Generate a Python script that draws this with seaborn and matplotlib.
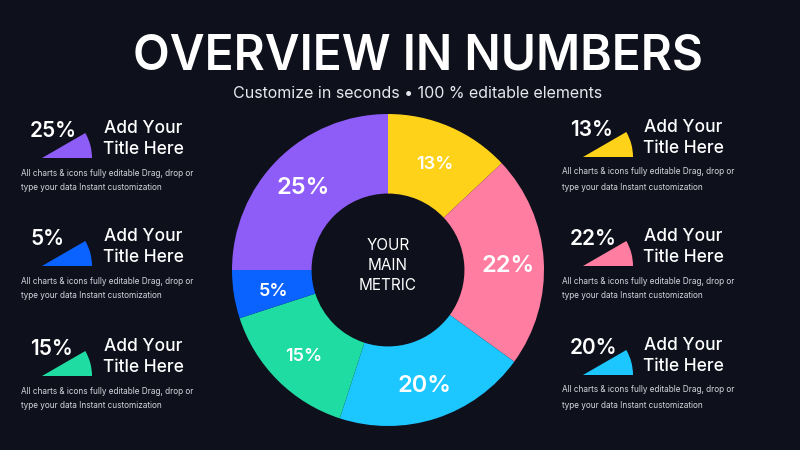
import matplotlib
matplotlib.use("Agg")
import matplotlib.pyplot as plt
from matplotlib.patches import Wedge
import numpy as np
import seaborn as sns

# ---- data ----
segment_labels = ["13%", "22%", "20%", "15%", "5%", "25%"]
segment_values = [13, 22, 20, 15, 5, 25]
segment_colors = ["#FFD21A", "#FF7DA0", "#1CC6FF", "#1FDCA2", "#0A62FF", "#8E5CF7"]

left_pcts = ["25%", "5%", "15%"]
left_colors = ["#8E5CF7", "#0A62FF", "#1FDCA2"]
right_pcts = ["13%", "22%", "20%"]
right_colors = ["#FFD21A", "#FF7DA0", "#1CC6FF"]

title = "OVERVIEW IN NUMBERS"
subtitle = "Customize in seconds \u2022 100 % editable elements"
center_text = "YOUR\nMAIN\nMETRIC"
card_title = "Add Your\nTitle Here"
card_desc = ["All charts & icons fully editable Drag, drop or",
             "type your data Instant customization"]

BG = "#0E101B"

sns.set_theme(style="dark", rc={"figure.facecolor": BG, "axes.facecolor": BG,
                                "savefig.facecolor": BG})
plt.rcParams["font.family"] = ["Inter", "DejaVu Sans"]

fig = plt.figure(figsize=(8, 4.5), dpi=100)

# overlay axes in pixel coordinates (y from top)
ov = fig.add_axes([0, 0, 1, 1])
ov.set_xlim(0, 800)
ov.set_ylim(450, 0)
ov.axis("off")

ov.text(418, 57, title, color="white", fontsize=34.5, fontweight="semibold",
        ha="center", va="center")
ov.text(418, 94, subtitle, color="#E6E8EE", fontsize=11.5, ha="center", va="center")

# ---- donut ----
cx, cy, R = 388, 270, 156
ax = fig.add_axes([(cx - R) / 800, (450 - cy - R) / 450, 2 * R / 800, 2 * R / 450])
ax.set_facecolor("none")
wedges, _ = ax.pie(segment_values, colors=segment_colors, startangle=90,
                   counterclock=False, radius=1.0,
                   wedgeprops=dict(width=0.51, edgecolor="none"))
label_sizes = [13, 17, 17, 13, 13, 17]
label_r = [0.76, 0.77, 0.76, 0.76, 0.74, 0.77]
acc = 0
for lab, v, fs, lr in zip(segment_labels, segment_values, label_sizes, label_r):
    mid = 90 - (acc + v / 2) * 3.6
    acc += v
    ax.text(lr * np.cos(np.radians(mid)), lr * np.sin(np.radians(mid)) - 0.02, lab,
            color="white", fontsize=fs, fontweight="semibold",
            ha="center", va="center")
ax.text(0, 0.03, center_text, color="white", fontsize=11, ha="center",
        va="center", linespacing=1.4)
ax.set_xlim(-1, 1)
ax.set_ylim(-1, 1)
ax.set_aspect("equal")
ax.axis("off")

# ---- side cards ----
ov2 = fig.add_axes([0, 0, 1, 1])
ov2.set_xlim(0, 800)
ov2.set_ylim(0, 450)
ov2.axis("off")
ov2.set_facecolor("none")


def card(apex_x, pct_x, title_x, desc_x, base_y, pct, color):
    ov2.add_patch(Wedge((apex_x, 450 - base_y), 50, 0, 30, facecolor=color,
                        edgecolor="none"))
    ov.text(pct_x, base_y - 27, pct, color="white", fontsize=15,
            fontweight="semibold", ha="left", va="center")
    ov.text(title_x, base_y - 19, card_title, color="white", fontsize=12.5,
            fontweight="medium", ha="center", va="center", linespacing=1.3)
    ov.text(desc_x, base_y + 15, card_desc[0], color="#D5D7DE", fontsize=5.9,
            ha="left", va="center")
    ov.text(desc_x, base_y + 30, card_desc[1], color="#D5D7DE", fontsize=5.9,
            ha="left", va="center")


for by, p, c in zip([158, 266, 376], left_pcts, left_colors):
    card(42, 30, 143, 21, by, p, c)
for by, p, c in zip([157, 266, 375], right_pcts, right_colors):
    card(583, 570, 683, 562, by, p, c)

fig.savefig("out.png", dpi=100, facecolor=BG)
